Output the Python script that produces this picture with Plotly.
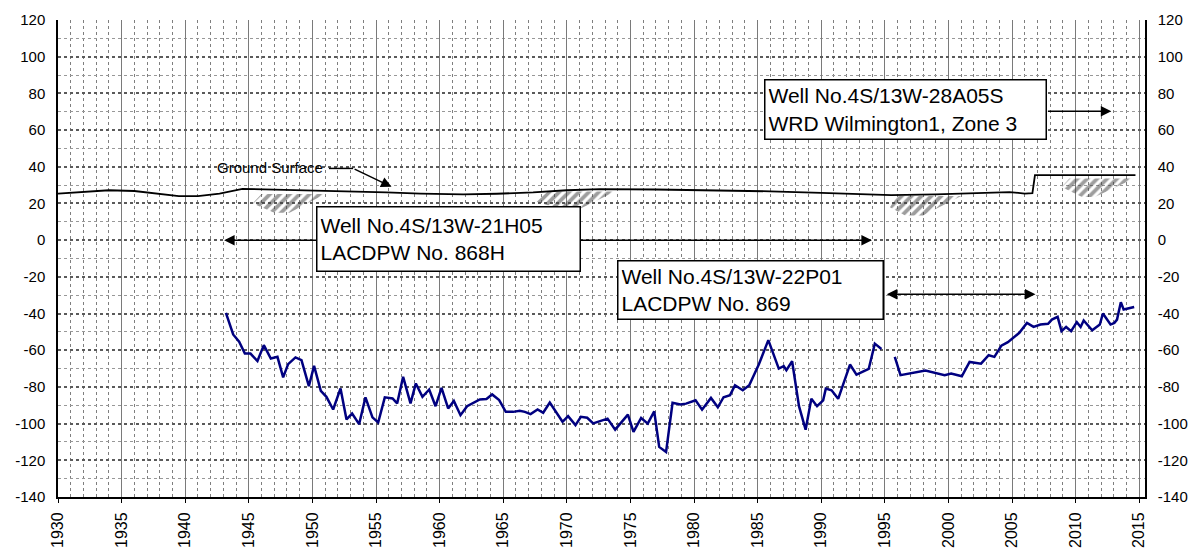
import plotly.graph_objects as go

# ---------------- data ----------------
well_years = [
    1943.2, 1943.77, 1944.24, 1944.69, 1945.13, 1945.68, 1946.18, 1946.73, 1947.25, 1947.70,
    1948.09, 1948.67, 1949.14, 1949.72, 1950.13, 1950.66, 1951.1, 1951.63, 1952.21, 1952.68,
    1953.12, 1953.67, 1954.17, 1954.72, 1955.17, 1955.69, 1956.3, 1956.66, 1957.13, 1957.71,
    1958.13, 1958.65, 1959.18, 1959.68, 1960.15, 1960.67, 1961.12, 1961.64, 1962.16, 1962.63,
    1963.16, 1963.68, 1964.13, 1964.68, 1965.2, 1965.78, 1966.3, 1966.7, 1967.15, 1967.7,
    1968.14, 1968.66, 1969.14, 1969.66, 1970.1, 1970.68, 1971.1, 1971.6, 1972.07, 1972.6,
    1973.2, 1973.8, 1974.8, 1975.24, 1975.84, 1976.36, 1976.87, 1977.26, 1977.8, 1978.31,
    1978.92, 1979.37, 1980.12, 1980.63, 1981.33, 1981.87, 1982.32, 1982.83, 1983.22, 1983.83,
    1984.34, 1985.09, 1985.84, 1986.66, 1987.05, 1987.26, 1987.71, 1988.25, 1988.77, 1989.22,
    1989.67, 1990.15, 1990.36, 1990.81, 1991.33, 1992.26, 1992.77, 1993.73, 1994.21, 1994.73,
    1995.2,
    1995.78, 1996.23, 1998.19, 1999.7, 2000.21, 2001.05, 2001.66, 2002.56, 2003.16, 2003.61,
    2004.16, 2004.67, 2005.57, 2006.17, 2006.69, 2007.23, 2007.83, 2008.13, 2008.58, 2008.89,
    2009.25, 2009.64, 2010.09, 2010.39, 2010.63, 2010.93, 2011.3, 2011.9, 2012.14, 2012.74,
    2013.04, 2013.25, 2013.55, 2013.77, 2014.25, 2014.6,
]
well_levels = [
    -39.6, -51.4, -55.4, -61.8, -61.8, -65.9, -57.2, -64.5, -63.6, -74.8,
    -67.6, -63.9, -65.4, -79.6, -68.5, -82.1, -85.4, -92.3, -80.8, -97.7,
    -94.5, -100.3, -85.7, -96.6, -99.4, -85.7, -86.3, -89.0, -74.5, -89.0,
    -78.1, -85.4, -81.4, -90.5, -80.5, -91.7, -87.6, -95.4, -90.5, -88.7,
    -86.8, -86.6, -84.1, -87.2, -93.6, -93.6, -93.0, -93.6, -94.8, -92.3,
    -94.1, -88.5, -93.6, -99.0, -95.9, -100.8, -96.3, -96.8, -99.9, -98.5,
    -97.3, -103.3, -95.1, -104.5, -96.9, -100.0, -93.3, -112.7, -115.5, -88.7,
    -89.6, -89.1, -87.3, -92.4, -86.0, -91.1, -85.6, -84.5, -79.1, -81.8,
    -79.1, -67.8, -54.5, -70.0, -68.7, -70.9, -66.0, -90.5, -103.3, -86.4,
    -90.5, -87.3, -80.9, -81.8, -86.5, -67.8, -73.3, -70.2, -56.4, -59.3,
    None,
    -63.6, -73.6, -71.1, -73.6, -72.7, -74.2, -66.4, -67.3, -62.7, -63.6,
    -57.5, -55.6, -50.5, -45.1, -47.3, -46.0, -45.6, -43.3, -41.8, -49.6,
    -47.3, -49.6, -44.7, -47.3, -43.8, -46.0, -49.1, -46.0, -40.0, -46.0,
    -45.1, -43.3, -33.8, -37.8, -36.9, -36.4,
]

ground_years = [1930, 1932, 1934, 1936, 1938, 1939.5, 1941, 1942.7, 1944.5, 1948, 1951.6,
                1955.8, 1958.5, 1961.85, 1964.5, 1967.35, 1970, 1972.6, 1977, 1981.6, 1986,
                1990, 1995.5, 1999, 2002.7, 2004.8, 2006.0, 2006.6, 2006.8, 2014.7]
ground_levels = [25.4, 26.4, 27.2, 26.8, 25.0, 24.0, 24.0, 25.4, 28.0, 27.5, 26.9,
                 26.0, 25.4, 24.9, 25.3, 26.0, 27.2, 27.8, 27.6, 27.2, 26.6,
                 25.8, 24.5, 25.0, 26.0, 26.2, 25.4, 25.6, 35.4, 35.4]

# hatched ground patches (polygon outlines)
hatch_patches = [
    ([1945.3, 1946.0, 1951.0, 1948.2, 1947.0, 1945.3], [20, 25.2, 25.2, 15, 15, 20]),
    ([1967.6, 1968.5, 1973.8, 1971.0, 1969.5, 1967.6], [21, 26.5, 26.5, 17, 17, 21]),
    ([1995.4, 1996.0, 2001.0, 1998.0, 1996.6, 1995.4], [18, 24.0, 24.0, 13.5, 13.5, 18]),
    ([2008.9, 2009.5, 2014.6, 2011.5, 2010.5, 2008.9], [29, 33.6, 33.6, 23.5, 23.5, 29]),
]

year_ticks = list(range(1930, 2016, 5))
level_ticks = list(range(-140, 121, 20))
level_labels = [str(v) for v in level_ticks]

box_texts = [
    "Well No.4S/13W-21H05<br>LACDPW No. 868H",
    "Well No.4S/13W-22P01<br>LACDPW No. 869",
    "Well No.4S/13W-28A05S<br>WRD Wilmington1, Zone 3",
]

FONT = "Liberation Sans, Arial, sans-serif"

fig = go.Figure()

for hx, hy in hatch_patches:
    fig.add_trace(go.Scatter(
        x=hx, y=hy, mode="lines", fill="toself",
        fillcolor="rgba(0,0,0,0)",
        fillpattern=dict(shape="/", fgcolor="#3c3c3c", bgcolor="rgba(0,0,0,0)",
                         size=7, solidity=0.55),
        line=dict(width=0), hoverinfo="skip", showlegend=False))

fig.add_trace(go.Scatter(x=ground_years, y=ground_levels, mode="lines",
                         line=dict(color="black", width=1.8), showlegend=False))

fig.add_trace(go.Scatter(x=well_years, y=well_levels, mode="lines",
                         line=dict(color="#000080", width=2.5),
                         connectgaps=False, showlegend=False))

# empty trace to bring in the right-hand axis
fig.add_trace(go.Scatter(x=[], y=[], yaxis="y2", showlegend=False))

annotations = []
arrow_common = dict(text="", showarrow=True, axref="x", ayref="y", xref="x", yref="y",
                    arrowhead=2, arrowsize=1.4, arrowwidth=1.5, arrowcolor="black")
annotations.append(dict(x=1993.98, y=0, ax=1942.94, ay=0, arrowside="end+start", **arrow_common))
annotations.append(dict(x=2006.84, y=-29.5, ax=1995.03, ay=-29.5, arrowside="end+start", **arrow_common))
annotations.append(dict(x=2012.8, y=70.2, ax=2007.7, ay=70.2, arrowside="end", **arrow_common))
annotations.append(dict(x=1956.22, y=29.1, ax=1953.2, ay=39.1, arrowside="end", **arrow_common))

annotations.append(dict(x=1942.35, y=39.6, xref="x", yref="y", xanchor="left", yanchor="middle",
                        text="Ground Surface", showarrow=False,
                        font=dict(family=FONT, size=15, color="black")))

box_specs = [
    (1950.32, 18.5, 256, 57),
    (1973.98, -10.9, 258, 51),
    (1985.5, 88.1, 274, 52),
]
for (bx, by, bw, bh), txt in zip(box_specs, box_texts):
    annotations.append(dict(x=bx, y=by, xref="x", yref="y", xanchor="left", yanchor="top",
                            text=txt, showarrow=False, align="left", valign="middle",
                            width=bw, height=bh, bgcolor="white", bordercolor="black",
                            borderwidth=1.5, borderpad=3,
                            font=dict(family=FONT, size=21, color="black")))

shapes = [dict(type="line", xref="x", yref="y", x0=1951.3, y0=39.1, x1=1953.2, y1=39.1,
               line=dict(color="black", width=1.5))]

axis_font = dict(family=FONT, size=15, color="black")
xaxis_font = dict(family=FONT, size=16, color="black")

# page body adds an 8px offset, so the figure is sized/margined to compensate
fig.update_layout(
    width=1193, height=542,
    margin=dict(l=50, r=56, t=12, b=53, autoexpand=False),
    paper_bgcolor="white", plot_bgcolor="white",
    showlegend=False,
    annotations=annotations,
    shapes=shapes,
    xaxis=dict(range=[1930, 2015.45], tickmode="array", tickvals=year_ticks,
               ticktext=[str(v) for v in year_ticks], tickangle=-90,
               tickfont=xaxis_font, showgrid=True, gridcolor="#7a7a7a", gridwidth=1,
               minor=dict(dtick=1, tick0=1930, showgrid=True, gridcolor="#7f7f7f",
                          griddash="dot", gridwidth=1, ticks=""),
               showline=True, linecolor="black", linewidth=2,
               ticks="outside", ticklen=4, tickcolor="black", ticklabelstandoff=3,
               zeroline=False, fixedrange=True, automargin=False),
    yaxis=dict(range=[-140, 120], tickmode="array", tickvals=level_ticks,
               ticktext=level_labels,
               tickfont=axis_font, showgrid=True, gridcolor="#5a5a5a", gridwidth=2,
               griddash="dot",
               minor=dict(dtick=10, tick0=-140, showgrid=True, gridcolor="#989898",
                          griddash="dot", gridwidth=1),
               showline=True, linecolor="black", linewidth=1.5,
               ticks="", ticklabelstandoff=8,
               zeroline=False, fixedrange=True, automargin=False),
    yaxis2=dict(range=[-140, 120], tickmode="array", tickvals=level_ticks,
                ticktext=level_labels,
                tickfont=axis_font, overlaying="y", side="right", anchor="x",
                showgrid=False, showline=True, linecolor="black", linewidth=1.5,
                ticks="", ticklabelstandoff=8,
                zeroline=False, fixedrange=True, automargin=False),
)

fig.write_html("out.html")
